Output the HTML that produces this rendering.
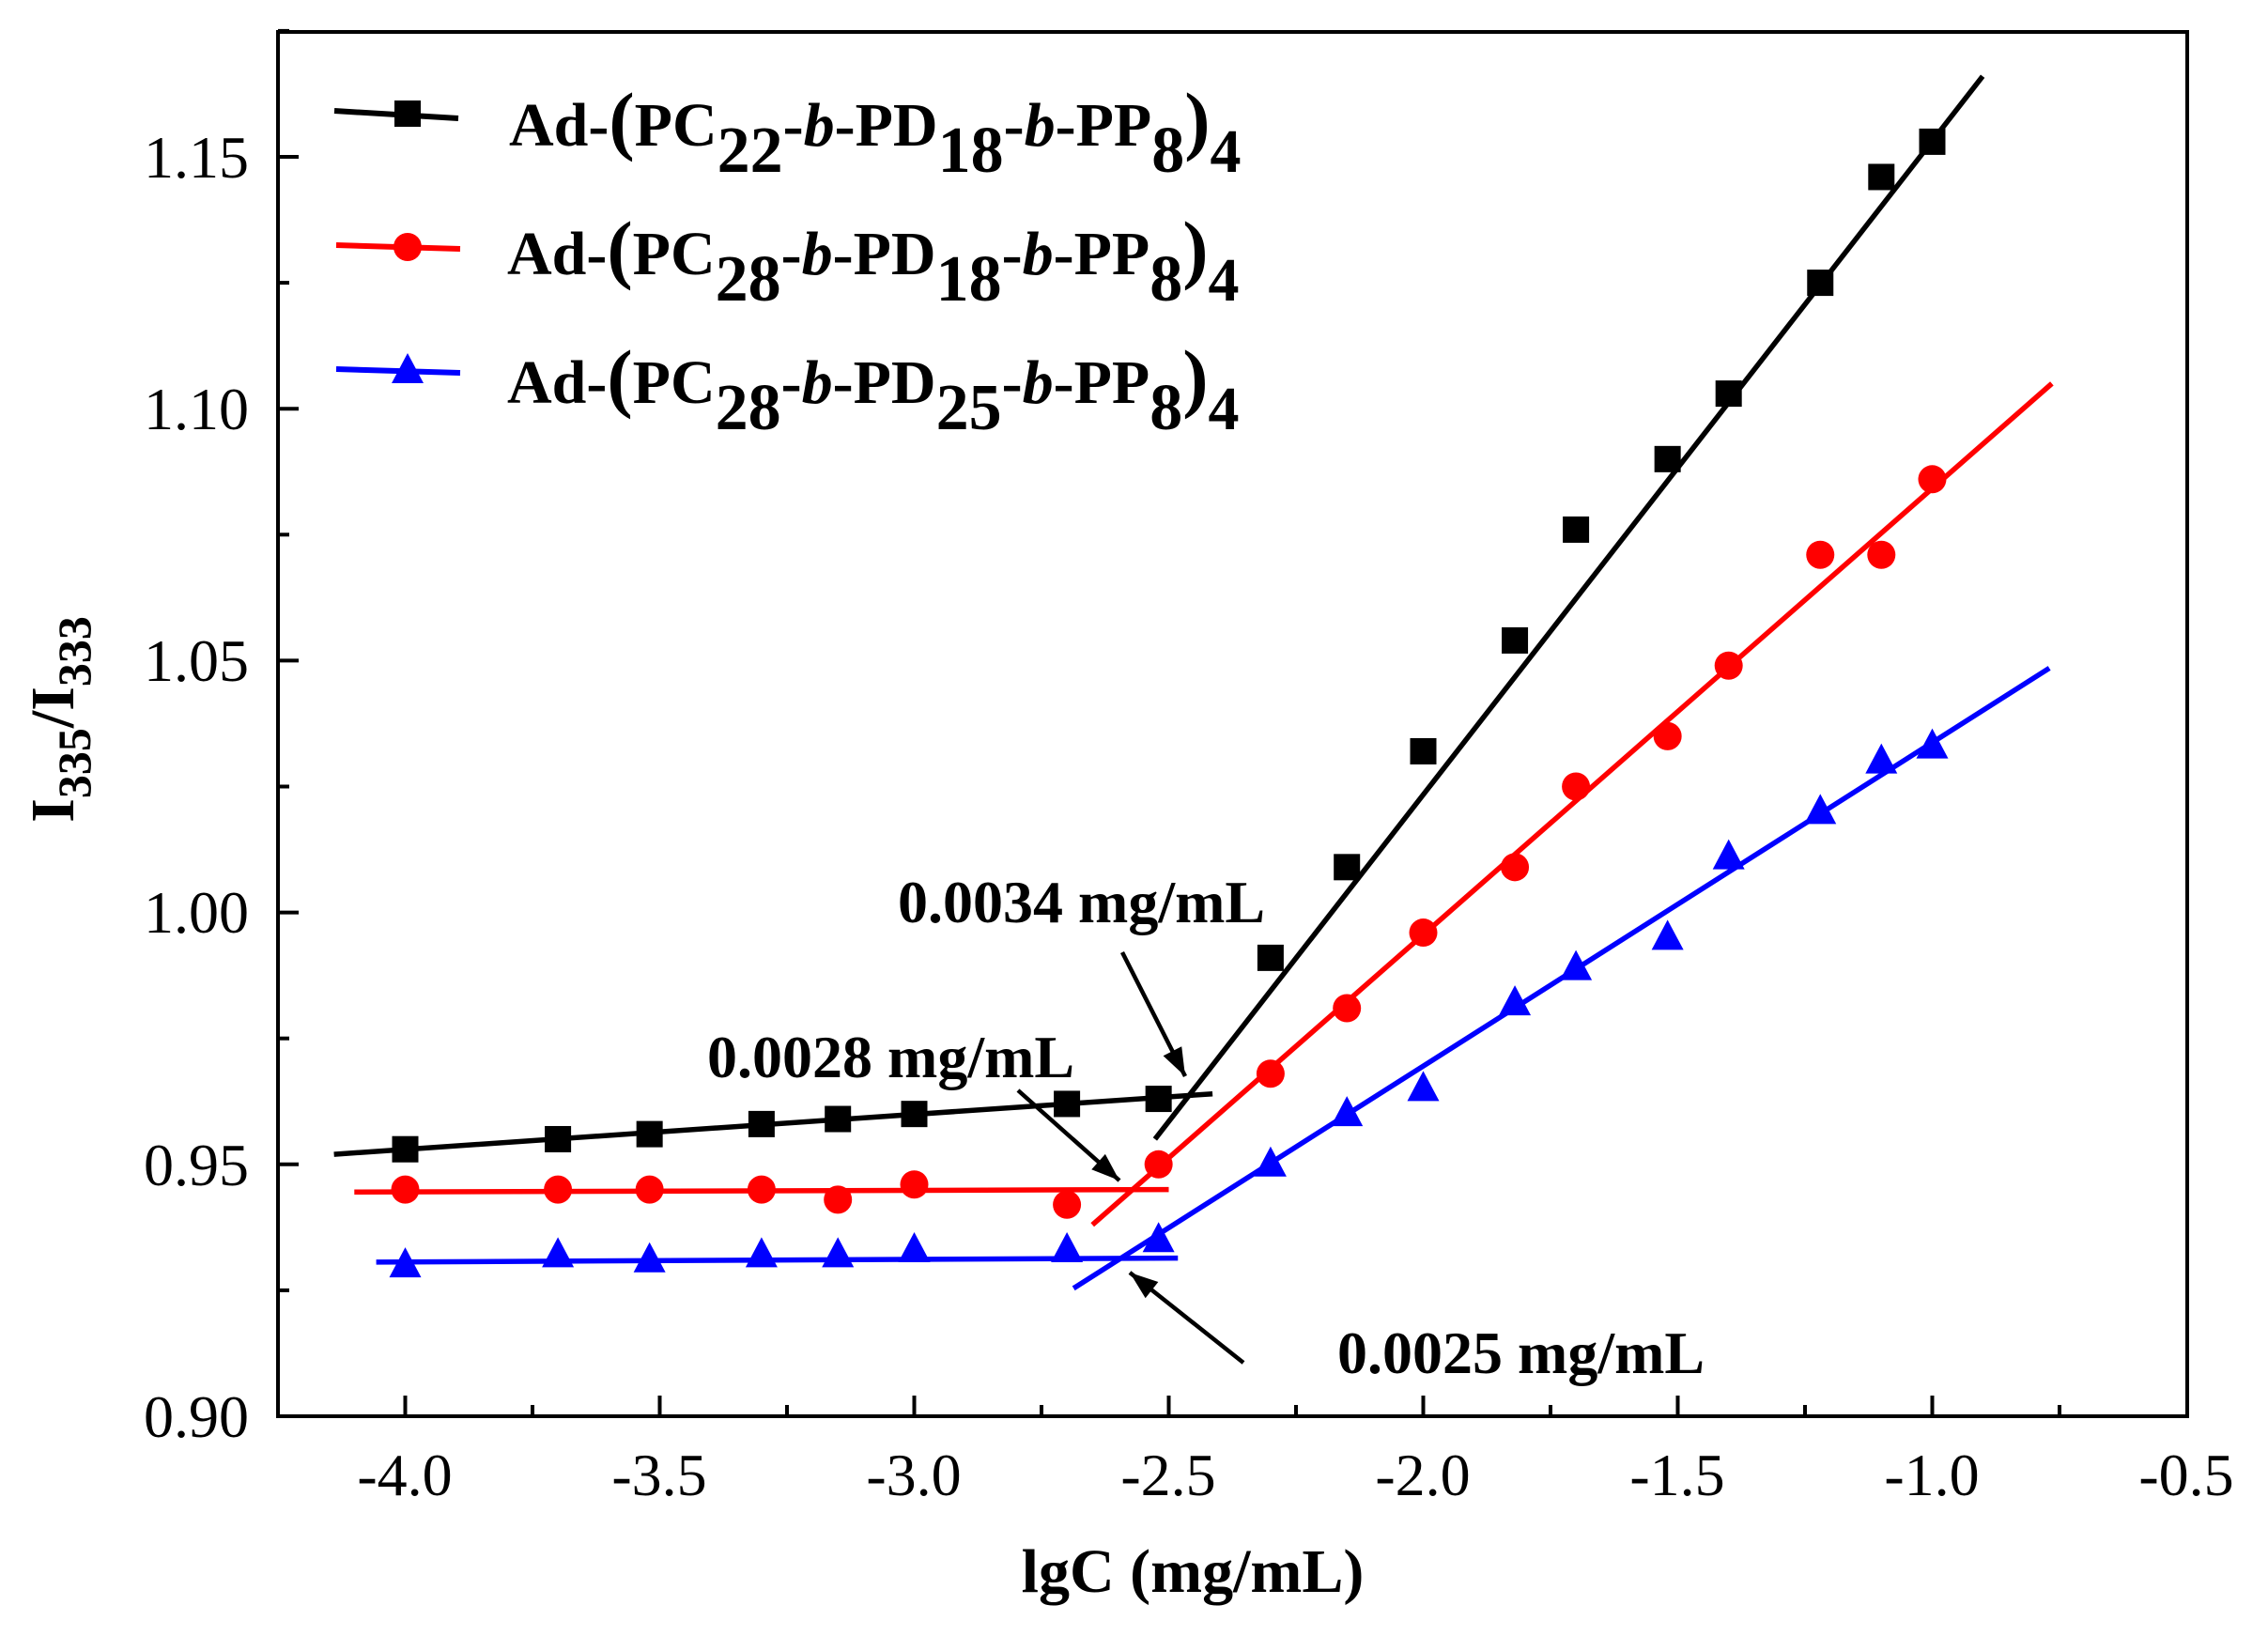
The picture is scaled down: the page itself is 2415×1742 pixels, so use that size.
<!DOCTYPE html>
<html><head><meta charset="utf-8"><style>
html,body{margin:0;padding:0;background:#fff;}
svg{display:block;}
.t{font-family:"Liberation Serif",serif;font-size:64px;fill:#000;}
.b{font-family:"Liberation Serif",serif;font-weight:bold;fill:#000;}
</style></head><body>
<svg id="s" width="2415" height="1742" viewBox="0 0 2415 1742" xmlns="http://www.w3.org/2000/svg">
<rect width="2415" height="1742" fill="#fff"/>
<g id="plot"></g>
<rect x="296" y="34" width="2033" height="1474" fill="none" stroke="#000" stroke-width="4"/>
<g class="t" text-anchor="end">
<text x="265" y="1530">0.90</text>
<text x="265" y="1262">0.95</text>
<text x="265" y="993">1.00</text>
<text x="265" y="725">1.05</text>
<text x="265" y="457">1.10</text>
<text x="265" y="189">1.15</text>
</g>
<g class="t" text-anchor="middle">
<text x="431" y="1592">-4.0</text>
<text x="702" y="1592">-3.5</text>
<text x="973" y="1592">-3.0</text>
<text x="1244" y="1592">-2.5</text>
<text x="1515" y="1592">-2.0</text>
<text x="1786" y="1592">-1.5</text>
<text x="2057" y="1592">-1.0</text>
<text x="2328" y="1592">-0.5</text>
</g>
<text class="b" x="1270" y="1695" font-size="66" text-anchor="middle">lgC (mg/mL)</text>
<text class="b" font-size="66" transform="translate(78,766) rotate(-90)" text-anchor="middle">I<tspan font-size="50" dy="18">335</tspan><tspan dy="-18">/I</tspan><tspan font-size="50" dy="18">333</tspan></text>
<g class="b" font-size="64">
<text x="956" y="982">0.0034 mg/mL</text>
<text x="753" y="1147">0.0028 mg/mL</text>
<text x="1424" y="1462">0.0025 mg/mL</text>
</g>
<g class="b" font-size="66">
<text x="542" y="155">Ad-<tspan font-size="82">(</tspan>PC<tspan dy="28" font-size="70">22</tspan><tspan dy="-28">-</tspan><tspan font-style="italic">b</tspan>-PD<tspan dy="28" font-size="70">18</tspan><tspan dy="-28">-</tspan><tspan font-style="italic">b</tspan>-PP<tspan dy="28" font-size="70">8</tspan><tspan dy="-28" font-size="82">)</tspan><tspan dy="28">4</tspan></text>
<text x="540" y="292">Ad-<tspan font-size="82">(</tspan>PC<tspan dy="28" font-size="70">28</tspan><tspan dy="-28">-</tspan><tspan font-style="italic">b</tspan>-PD<tspan dy="28" font-size="70">18</tspan><tspan dy="-28">-</tspan><tspan font-style="italic">b</tspan>-PP<tspan dy="28" font-size="70">8</tspan><tspan dy="-28" font-size="82">)</tspan><tspan dy="28">4</tspan></text>
<text x="540" y="429">Ad-<tspan font-size="82">(</tspan>PC<tspan dy="28" font-size="70">28</tspan><tspan dy="-28">-</tspan><tspan font-style="italic">b</tspan>-PD<tspan dy="28" font-size="70">25</tspan><tspan dy="-28">-</tspan><tspan font-style="italic">b</tspan>-PP<tspan dy="28" font-size="70">8</tspan><tspan dy="-28" font-size="82">)</tspan><tspan dy="28">4</tspan></text>
</g>
</svg>
<script>
(function(){
var NS="http://www.w3.org/2000/svg",g=document.getElementById("plot");
function X(x){return 296+(x+4.25)*542;}
function Y(y){return 1508-(y-0.9)*5364;}
function el(n,a){var e=document.createElementNS(NS,n);for(var k in a)e.setAttribute(k,a[k]);g.appendChild(e);return e;}
function line(x1,y1,x2,y2,c,w){el("line",{x1:x1,y1:y1,x2:x2,y2:y2,stroke:c,"stroke-width":w||5.5});}
for(var i=0;i<=14;i++){var x=-4.25+i*0.25;if(x>-0.5+1e-6)break;var px=X(x);var L=(Math.abs((x*2)-Math.round(x*2))<1e-6)?22:12;line(px,1508,px,1508-L,"#000",4);}
for(var i=0;i<=11;i++){var y=0.9+i*0.025;if(y>1.175)break;var py=Y(y);var L=(i%2==0)?22:12;line(296,py,296+L,py,"#000",4);}
var xs=[-4,-3.7,-3.52,-3.3,-3.15,-3,-2.7,-2.52,-2.3,-2.15,-2,-1.82,-1.7,-1.52,-1.4,-1.22,-1.1,-1.0];
var bk=[0.953,0.955,0.956,0.958,0.959,0.960,0.962,0.963,0.991,1.009,1.032,1.054,1.076,1.090,1.103,1.125,1.146,1.153];
var rd=[0.945,0.945,0.945,0.945,0.943,0.946,0.942,0.950,0.968,0.981,0.996,1.009,1.025,1.035,1.049,1.071,1.071,1.086];
var bl=[0.930,0.932,0.931,0.932,0.932,0.933,0.933,0.935,0.950,0.960,0.965,0.982,0.989,0.995,1.011,1.020,1.030,1.033];
line(X(-4.14),Y(0.952),X(-2.414),Y(0.964),"#000");
line(X(-2.527),Y(0.955),X(-0.901),Y(1.166),"#000");
line(X(-4.10),Y(0.9445),X(-2.50),Y(0.945),"#f00");
line(X(-2.65),Y(0.938),X(-0.765),Y(1.105),"#f00");
line(X(-4.057),Y(0.9306),X(-2.482),Y(0.9314),"#00f");
line(X(-2.687),Y(0.9254),X(-0.770),Y(1.0485),"#00f");
function sq(x,y){el("rect",{x:x-14,y:y-14,width:28,height:28,fill:"#000"});}
function ci(x,y){el("circle",{cx:x,cy:y,r:15,fill:"#f00"});}
function tr(x,y){el("polygon",{points:(x)+","+(y-19)+" "+(x-17)+","+(y+13)+" "+(x+17)+","+(y+13),fill:"#00f"});}
for(var i=0;i<xs.length;i++){sq(X(xs[i]),Y(bk[i]));ci(X(xs[i]),Y(rd[i]));tr(X(xs[i]),Y(bl[i]));}
line(356,118,488,126,"#000",6);sq(434,121);
line(358,261,490,265,"#f00",6);ci(434,263);
line(358,393,490,397,"#00f",6);tr(434,395);
function arrow(x1,y1,x2,y2){line(x1,y1,x2,y2,"#000",4.5);var a=Math.atan2(y2-y1,x2-x1),L=30,w=11;
var bx=x2-L*Math.cos(a),by=y2-L*Math.sin(a);
el("polygon",{points:x2+","+y2+" "+(bx-w*Math.sin(a))+","+(by+w*Math.cos(a))+" "+(bx+w*Math.sin(a))+","+(by-w*Math.cos(a)),fill:"#000"});}
arrow(1195,1014,1262,1146);
arrow(1084,1161,1192,1257);
arrow(1324,1451,1203,1355);
})();
</script>
</body></html>
